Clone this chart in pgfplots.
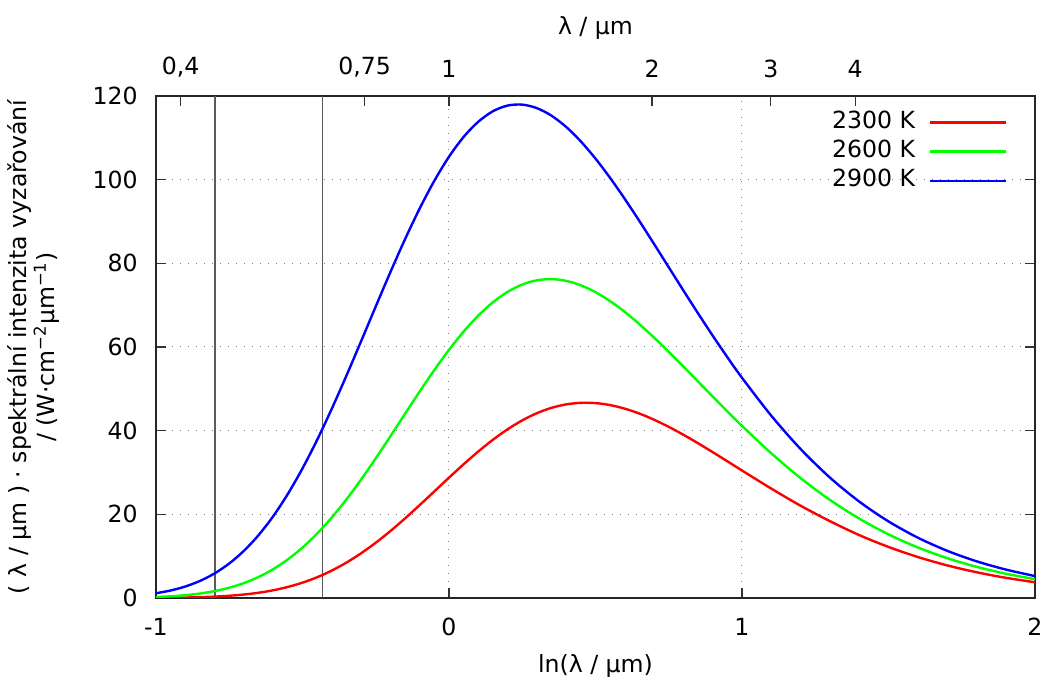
\documentclass[border=0pt]{standalone}
\usepackage{fontspec}
\setmainfont{DejaVu Sans}
\usepackage{pgfplots}
\pgfplotsset{compat=1.18}
\usepackage{pgfplotstable}

\pgfplotstableread{
t y2300 y2600 y2900
-1.0 0.034 0.239 1.135
-0.95 0.063 0.408 1.794
-0.9 0.114 0.672 2.745
-0.85 0.197 1.068 4.076
-0.8 0.330 1.644 5.878
-0.75 0.532 2.454 8.246
-0.7 0.832 3.558 11.268
-0.65 1.258 5.016 15.018
-0.6 1.848 6.886 19.546
-0.55 2.639 9.220 24.872
-0.5 3.666 12.052 30.977
-0.45 4.963 15.398 37.800
-0.4 6.557 19.252 45.242
-0.35 8.463 23.579 53.156
-0.3 10.685 28.318 61.371
-0.25 13.206 33.384 69.691
-0.2 16.001 38.667 77.899
-0.15 19.019 44.038 85.776
-0.1 22.204 49.366 93.117
-0.05 25.478 54.503 99.739
0.0 28.765 59.321 105.48
0.05 31.973 63.694 110.22
0.1 35.022 67.514 113.85
0.15 37.832 70.697 116.36
0.2 40.332 73.182 117.71
0.25 42.460 74.930 117.94
0.3 44.182 75.946 117.10
0.35 45.459 76.224 115.29
0.4 46.283 75.808 112.60
0.45 46.654 74.747 109.13
0.5 46.589 73.107 105.03
0.55 46.113 70.954 100.41
0.6 45.262 68.376 95.39
0.65 44.081 65.443 90.088
0.7 42.613 62.241 84.61
0.75 40.910 58.846 79.060
0.8 39.019 55.324 73.51
0.85 36.988 51.741 68.042
0.9 34.861 48.152 62.71
0.95 32.679 44.606 57.562
1.0 30.479 41.141 52.64
1.1 26.145 34.583 43.57
1.2 22.054 28.657 35.61
1.3 18.373 23.450 28.79
1.4 15.041 18.977 23.055
1.5 12.201 15.208 18.305
1.6 9.799 12.084 14.424
1.7 7.800 9.529 11.292
1.8 6.161 7.463 8.787
1.9 4.832 5.811 6.803
2.0 3.767 4.501 5.242
}\datatable

\definecolor{cred}{RGB}{255,0,0}
\definecolor{cgreen}{RGB}{0,255,0}
\definecolor{cblue}{RGB}{0,0,255}
\definecolor{vline}{RGB}{90,90,90}

\begin{document}
\fontsize{11.8}{14}\selectfont
\begin{tikzpicture}[font=\fontsize{11.8}{14}\selectfont]
\begin{axis}[
  name=main,
  scale only axis,
  width=439.5pt, height=251pt,
  xmin=-1, xmax=2, ymin=0, ymax=120,
  xtick={-1,0,1,2},
  ytick={0,20,40,60,80,100,120},
  xtick pos=left,
  ytick pos=both,
  tick align=inside,
  major tick length=5pt,
  minor tick num=0,
  grid=major,
  grid style={draw=gray, line width=0.5pt, dash pattern=on 0.6pt off 3.4pt},
  major tick style={draw=black!80, line width=0.6pt},
  axis line style={line width=0.75pt, draw=black!85},
  /pgf/number format/assume math mode=true,
  xticklabel style={yshift=-6pt},
  yticklabel style={xshift=-5pt},
  xlabel={ln(λ / μm)},
  xlabel style={yshift=-1pt},
  ylabel={( λ / μm ) · spektrální intenzita vyzařování\\/ (W·cm\textsuperscript{−2}μm\textsuperscript{−1})},
  ylabel style={align=center, yshift=8.5pt},
  legend cell align=right,
  legend plot pos=right,
  legend style={at={(1,1)}, anchor=north east, xshift=-10.5pt, yshift=-4pt,
    draw=none, fill=none, row sep=0.6pt, column sep=6pt,
    nodes={inner sep=1pt, text height=9pt, text depth=3pt}},
  legend image code/.code={\draw[#1] (0pt,0pt) -- (38pt,0pt);},
]
\addplot[vline, line width=0.7pt, forget plot] coordinates {(-0.799,0) (-0.799,120)};
\addplot[vline, line width=0.7pt, forget plot] coordinates {(-0.431,0) (-0.431,120)};
\addplot[cred, line width=1.2pt, smooth] table[x=t, y=y2300] {\datatable};
\addlegendentry{2300 K}
\addplot[cgreen, line width=1.2pt, smooth] table[x=t, y=y2600] {\datatable};
\addlegendentry{2600 K}
\addplot[cblue, line width=1.2pt, smooth] table[x=t, y=y2900] {\datatable};
\addlegendentry{2900 K}
\end{axis}
\begin{axis}[
  scale only axis,
  width=439.5pt, height=251pt,
  xmin=-1, xmax=2, ymin=0, ymax=120,
  axis line style={draw=none},
  xtick={-0.91629,-0.28768,0,0.69315,1.09861,1.38629},
  xticklabels={{0,4},{0,75},1,2,3,4},
  xtick pos=right,
  xticklabel pos=right,
  ytick=\empty,
  tick align=inside,
  major tick length=5pt,
  major tick style={draw=black!80, line width=0.6pt},
  xticklabel style={yshift=5pt},
  xlabel={λ / μm},
  xlabel style={yshift=1pt},
]
\end{axis}
\pgfresetboundingbox
\path[use as bounding box] ([shift={(-78pt,-41pt)}]main.south west) rectangle ([shift={(5pt,48pt)}]main.north east);
\end{tikzpicture}
\end{document}
